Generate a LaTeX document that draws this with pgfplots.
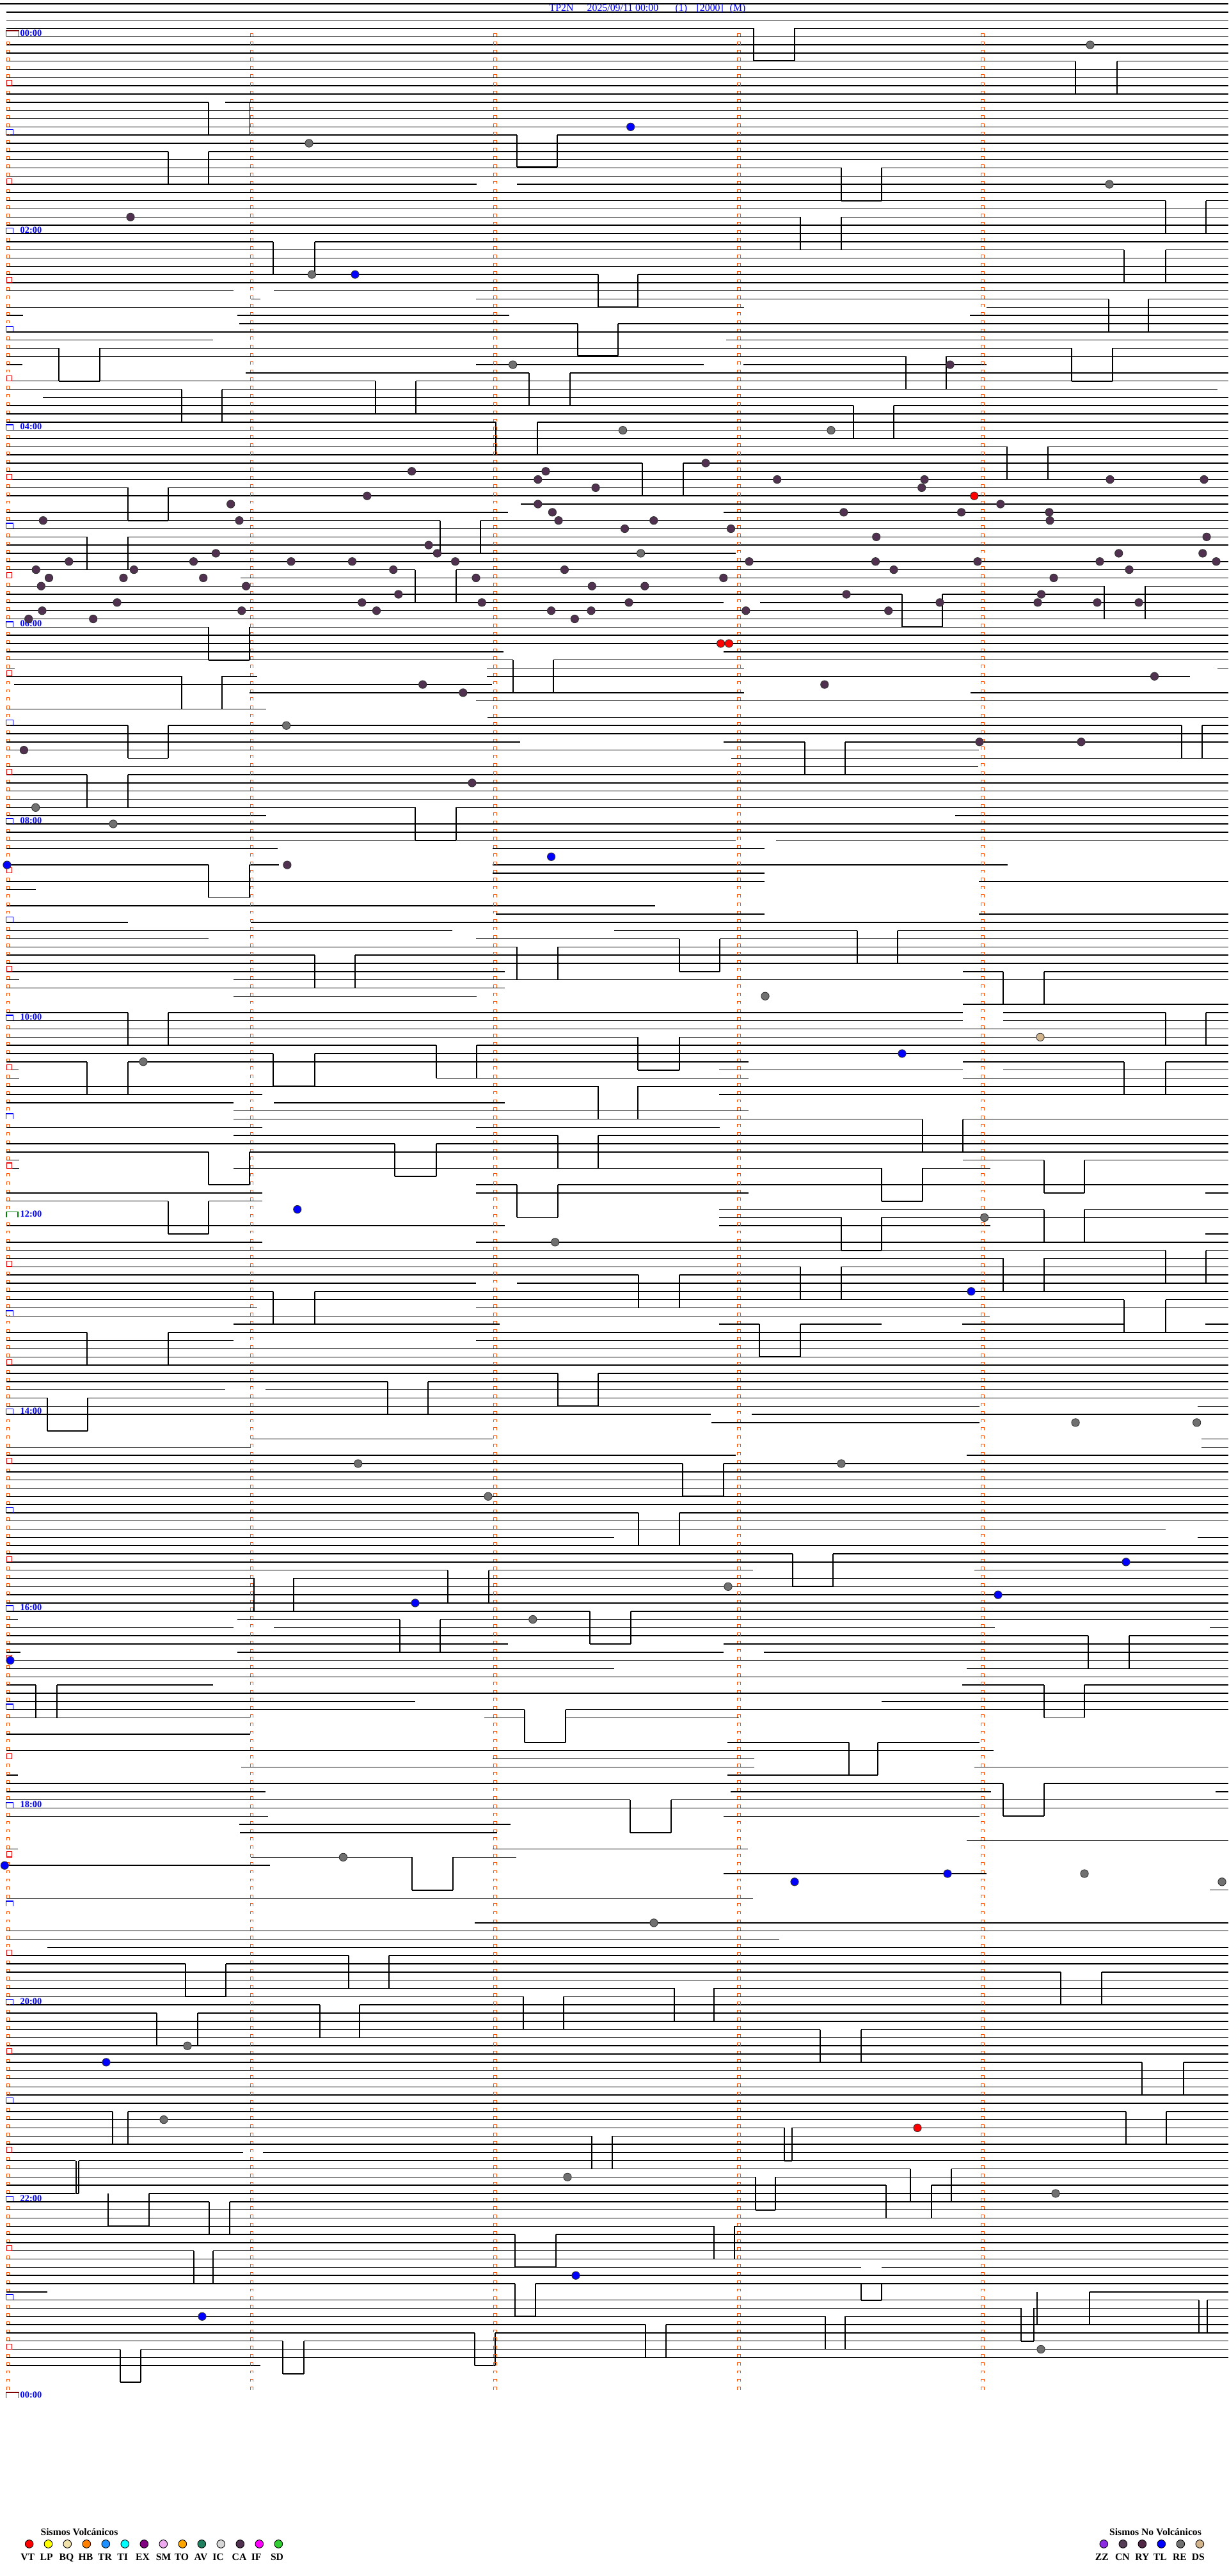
\documentclass[border=0pt]{standalone}
\usepackage{fontspec}
\setmainfont{Liberation Serif}
\usepackage{pgfplots}
\usepackage{pgfplotstable}
\pgfplotsset{compat=1.18}

\definecolor{mkor}{RGB}{255,80,0}
\definecolor{lblue}{RGB}{0,0,255}
\definecolor{hourblue}{RGB}{0,0,255}
\definecolor{halfred}{RGB}{230,0,0}
\definecolor{darkred}{RGB}{128,0,0}
\definecolor{noongreen}{RGB}{0,128,0}
\definecolor{REc}{RGB}{112,112,112}
\definecolor{CAc}{RGB}{80,50,80}
\definecolor{TLc}{RGB}{0,0,255}
\definecolor{VTc}{RGB}{255,0,0}
\definecolor{DSc}{RGB}{210,180,140}
\definecolor{LPc}{RGB}{255,255,0}
\definecolor{BQc}{RGB}{240,225,170}
\definecolor{HBc}{RGB}{255,128,0}
\definecolor{TRc}{RGB}{30,144,255}
\definecolor{TIc}{RGB}{0,255,255}
\definecolor{EXc}{RGB}{128,0,128}
\definecolor{SMc}{RGB}{238,170,238}
\definecolor{TOc}{RGB}{255,165,0}
\definecolor{AVc}{RGB}{32,128,96}
\definecolor{ICc}{RGB}{215,215,215}
\definecolor{IFc}{RGB}{255,0,255}
\definecolor{SDc}{RGB}{50,205,50}
\definecolor{ZZc}{RGB}{138,43,226}
\definecolor{CNc}{RGB}{85,60,85}
\definecolor{RYc}{RGB}{80,40,70}

% special timing marks (column 0)
\pgfdeclareplotmark{hourmk}{%
  \pgfpathrectangle{\pgfqpoint{-1.62pt}{0.22pt}}{\pgfqpoint{3.24pt}{2.2pt}}%
  \pgfsetfillcolor{white}\pgfusepathqfill
  \pgfsetstrokecolor{hourblue}\pgfsetlinewidth{0.45pt}%
  \pgfpathmoveto{\pgfqpoint{-1.62pt}{0.1pt}}%
  \pgfpathlineto{\pgfqpoint{-1.62pt}{2.42pt}}%
  \pgfpathlineto{\pgfqpoint{1.62pt}{2.42pt}}%
  \pgfpathlineto{\pgfqpoint{1.62pt}{0.1pt}}%
  \pgfusepathqstroke}
\pgfdeclareplotmark{halfmk}{%
  \pgfpathrectangle{\pgfqpoint{-1.2pt}{0.22pt}}{\pgfqpoint{2.4pt}{2.15pt}}%
  \pgfsetfillcolor{white}\pgfusepathqfill
  \pgfsetstrokecolor{halfred}\pgfsetlinewidth{0.32pt}%
  \pgfpathrectangle{\pgfqpoint{-1.2pt}{0.1pt}}{\pgfqpoint{2.4pt}{2.3pt}}%
  \pgfusepathqstroke}
\pgfdeclareplotmark{noonmk}{%
  \pgfpathrectangle{\pgfqpoint{-2.56pt}{0.22pt}}{\pgfqpoint{5.12pt}{2.3pt}}%
  \pgfsetfillcolor{white}\pgfusepathqfill
  \pgfsetstrokecolor{noongreen}\pgfsetlinewidth{0.4pt}%
  \pgfpathmoveto{\pgfqpoint{-2.56pt}{0.1pt}}%
  \pgfpathlineto{\pgfqpoint{-2.56pt}{2.56pt}}%
  \pgfpathlineto{\pgfqpoint{2.56pt}{2.56pt}}%
  \pgfpathlineto{\pgfqpoint{2.56pt}{0.1pt}}%
  \pgfusepathqstroke}
\pgfdeclareplotmark{daymk}{%
  \pgfpathrectangle{\pgfqpoint{-2.85pt}{0.22pt}}{\pgfqpoint{5.7pt}{2.6pt}}%
  \pgfsetfillcolor{white}\pgfusepathqfill
  \pgfsetstrokecolor{darkred}\pgfsetlinewidth{0.4pt}%
  \pgfpathmoveto{\pgfqpoint{-2.85pt}{0.1pt}}%
  \pgfpathlineto{\pgfqpoint{-2.85pt}{2.75pt}}%
  \pgfpathlineto{\pgfqpoint{2.85pt}{2.75pt}}%
  \pgfpathlineto{\pgfqpoint{2.85pt}{0.1pt}}%
  \pgfusepathqstroke
  \pgfsetlinewidth{0.6pt}%
  \pgfpathmoveto{\pgfqpoint{-2.85pt}{2.7pt}}%
  \pgfpathlineto{\pgfqpoint{2.85pt}{2.7pt}}%
  \pgfusepathqstroke}

% trace segments: x from x1 to x2 (pixels of the 5-minute line), on row k (5-minute rows, 0 = 00:00)
\pgfplotstableread{
x1 x2 k
0 1920 -4
10 1920 -3
10 1920 -2
10 1178 -1
1242 1920 -1
10 1920 0
10 1920 1
10 1920 2
10 1681 3
1746 1920 3
10 1920 4
10 1920 5
10 1920 6
10 1920 7
10 326 8
352 1920 8
10 1920 9
10 1920 10
10 1920 11
10 808 12
871 1920 12
10 1920 13
10 263 14
326 1920 14
10 1920 15
10 1315 16
1378 1920 16
10 1920 17
10 745 18
808 1920 18
10 1920 19
10 1822 20
1885 1920 20
10 1920 21
10 1251 22
1315 1920 22
10 1920 23
10 1920 24
10 427 25
492 1920 25
10 1757 26
1822 1920 26
10 1920 27
10 1920 28
10 935 29
997 1920 29
10 1920 30
10 365 31
428 1920 31
392 407 32
744 1733 32
1795 1920 32
10 1163 33
1542 1920 33
10 36 34
371 796 34
1516 1920 34
374 903 35
966 1920 35
10 1920 36
10 333 37
1135 1920 37
10 92 38
156 1675 38
1739 1920 38
10 1416 39
1479 1920 39
10 35 40
744 1100 40
1162 1542 40
384 827 41
891 1920 41
10 587 42
650 1920 42
10 284 43
347 1903 43
67 1920 44
10 1334 45
1397 1920 45
10 1920 46
10 775 47
840 1920 47
10 1920 48
10 1920 49
10 1574 50
1638 1920 50
10 1920 51
10 1004 52
1068 1920 52
10 1920 53
10 1920 54
10 200 55
263 1920 55
10 1920 56
814 1920 57
10 794 58
1131 1920 58
10 688 59
751 1920 59
10 1920 60
10 136 61
200 1920 61
10 1920 62
10 1150 63
10 1920 64
10 649 65
713 1920 65
376 1920 66
10 1726 67
1790 1920 67
10 1410 68
1473 1920 68
10 1131 69
1188 1920 69
10 1920 70
10 1920 71
10 326 72
390 1920 72
10 1920 73
10 1920 74
10 787 75
1131 1920 75
10 802 76
865 1920 76
10 23 77
761 1163 77
1903 1920 77
10 284 78
347 402 78
761 1860 78
22 769 79
390 1163 80
1517 1920 80
744 1920 81
10 416 82
762 1920 83
10 200 84
263 1847 84
1879 1920 84
10 1920 85
10 813 86
1131 1258 86
1321 1920 86
10 1530 87
1143 1920 88
10 1529 89
10 136 90
200 1920 90
10 1920 91
10 1920 92
10 1920 93
10 649 94
713 1920 94
10 416 95
1493 1920 95
10 1920 96
10 1920 97
10 1150 98
1213 1920 98
10 434 99
770 1195 99
10 326 101
390 436 101
770 1575 101
770 1195 102
10 1195 103
1530 1920 103
10 56 104
10 1024 106
775 1195 107
1530 1920 107
10 200 108
392 1920 108
10 707 109
960 1340 109
1403 1920 109
10 326 110
744 1062 110
1125 1920 110
10 808 111
872 1920 111
10 492 112
555 1920 112
10 1920 113
10 789 114
1505 1568 114
1632 1920 114
10 30 115
365 1920 115
10 789 116
365 745 117
1505 1920 118
10 200 119
263 1505 119
1568 1822 119
1885 1920 119
10 1505 120
1568 1920 120
10 1920 121
10 997 122
1062 1920 122
10 682 123
745 1920 123
10 427 124
492 1920 124
10 136 125
200 1170 125
1505 1757 125
1822 1920 125
10 29 126
1124 1505 126
1568 1920 126
10 30 127
744 1170 127
1505 1920 127
10 935 128
997 1920 128
10 410 129
1124 1920 129
10 365 130
428 789 130
365 1170 131
365 1442 132
1505 1920 132
10 410 133
744 1125 133
365 872 134
935 1920 134
10 617 135
682 1920 135
10 326 136
390 1920 136
10 30 137
1505 1632 137
1695 1920 137
10 30 138
365 1378 138
1442 1548 138
744 808 140
872 1920 140
10 410 141
744 1170 141
1884 1920 141
10 263 142
326 410 142
1124 1632 143
1695 1920 143
1124 1315 144
1378 1920 144
10 789 145
1124 1548 145
1884 1920 146
10 410 147
744 1920 147
10 1822 148
1885 1920 148
10 1568 149
1632 1920 149
10 1251 150
1315 1920 150
10 998 151
1062 1920 151
10 744 152
808 1920 152
10 427 153
492 1920 153
10 1757 154
1822 1920 154
10 402 155
744 1920 155
10 1547 156
365 781 157
1124 1187 157
1251 1378 157
1504 1757 157
1884 1920 157
10 136 158
263 1920 158
10 365 159
744 1920 159
10 1920 160
10 1920 161
10 1920 162
10 872 163
935 1920 163
10 606 164
669 1920 164
10 352 165
415 1920 165
10 74 166
137 1920 166
10 1531 167
1872 1920 167
10 1111 168
1175 1920 168
1112 1531 169
392 770 171
1878 1920 171
10 392 172
1878 1920 172
10 1150 173
1511 1920 173
10 1067 174
1131 1920 174
10 1920 175
10 1920 176
10 1920 177
10 1920 178
10 1920 179
10 998 180
1062 1920 180
10 1920 181
10 1822 182
10 960 183
1872 1920 183
10 1920 184
10 1239 185
1302 1920 185
10 1920 186
10 700 187
764 1177 187
1523 1920 187
10 397 188
459 1920 188
10 1920 189
10 1920 190
10 1920 191
10 922 192
986 1920 192
10 28 193
371 625 193
688 1920 193
10 365 194
428 1555 194
1891 1920 194
10 1701 195
1765 1920 195
10 794 196
1131 1920 196
10 32 197
371 1131 197
1194 1920 197
10 1920 198
10 960 199
1511 1920 199
10 1920 200
10 56 201
89 333 201
1504 1632 201
1695 1920 201
10 1920 202
10 649 203
1378 1920 203
10 820 204
884 1920 204
10 391 205
757 820 205
884 1155 205
10 391 207
1137 1327 208
1372 1531 208
10 1553 209
770 1179 210
377 1179 211
1523 1920 211
10 28 212
1137 1327 212
10 1568 213
1632 1920 213
10 415 214
1142 1549 214
1900 1920 214
10 985 215
1049 1920 215
10 1920 216
10 419 217
1131 1531 217
374 798 218
375 777 219
1511 1920 220
10 28 221
770 1169 221
392 644 222
708 807 222
10 422 223
1131 1542 224
1891 1920 226
10 1177 227
742 1920 230
10 1920 231
10 1218 232
74 1920 233
10 545 234
608 1920 234
10 290 235
353 1920 235
10 1658 236
1722 1920 236
10 1920 237
10 1054 238
1116 1920 238
10 818 239
881 1920 239
10 500 240
562 1920 240
10 245 241
309 1920 241
10 1920 242
10 1282 243
1346 1920 243
10 1920 244
10 1920 245
10 1920 246
10 1785 247
1850 1920 247
10 1920 248
10 1920 249
10 1920 250
10 1920 251
10 1920 252
10 176 253
200 1760 253
1823 1920 253
10 1920 254
10 1226 255
1238 1920 255
10 925 256
957 1920 256
10 1920 257
10 380 258
411 1920 258
10 118 259
123 1920 259
10 1423 260
1487 1920 260
10 1181 261
1212 1920 261
10 1385 262
1456 1920 262
10 118 263
233 1920 263
10 327 264
359 1920 264
10 1920 265
10 1920 266
10 1116 267
1148 1920 267
10 805 268
869 1920 268
10 1920 269
10 303 270
333 1920 270
10 1920 271
10 1346 272
1378 1920 272
10 1920 273
10 805 274
837 1920 274
10 74 275
1703 1920 275
10 1874 276
1887 1920 276
10 1596 277
1616 1920 277
10 1290 278
1321 1920 278
10 1009 279
1041 1920 279
10 742 280
774 1920 280
10 442 281
475 1920 281
10 188 282
220 1920 282
10 1920 283
10 407 284
}\segs

% square pulses: from x=a to x=b, dropping from row k to row d
\pgfplotstableread{
a b k d
1178 1242 -1 2.93
1681 1746 3 7
326 389.5 8 12
808 871 12 15.9
263 326 14 18
1315 1378 16 20
1822 1885 20 24
1251 1315 22 26
427 492 25 29
1757 1822 26 30
935 997 29 33
1733 1795 32 36
903 966 35 38.9
92 156 38 42
1675 1739 38 42
1416 1479 39 43
827 891 41 45
587 650 42 46
284 347 43 47
1334 1397 45 49
775 840 47 51
1574 1638 50 54
1004 1068 52 56
200 263 55 59
688 751 59 63
136 200 61 65
649 713 65 69
1726 1790 67 71
1410 1473 68 72
326 390 72 76
802 865 76 80
284 347 78 82
200 263 84 88
1847 1879 84 88
1258 1321 86 90
136 200 90 94
649 713 94 98
326 390 101 105
1340 1403 109 113
1062 1125 110 114
808 872 111 115
492 555 112 116
1568 1632 114 118
200 263 119 123
1822 1885 119 123
997 1062 122 126
682 745 123 127
427 492 124 128
136 200 125 129
1757 1822 125 129
935 997 128 132
1442 1505 132 136
872 935 134 138
617 682 135 139
326 390 136 140
1632 1695 137 141
1378 1442 138 142
808 872 140 144
263 326 142 146
1632 1695 143 147
1315 1378 144 148
1822 1885 148 152
1568 1632 149 153
1251 1315 150 154
998 1062 151 155
427 492 153 157
1757 1822 154 158
1187 1251 157 161
136 263 158 162
872 935 163 167
606 669 164 168
74 137 166 170
1067 1131 174 178
998 1062 180 184
1239 1302 185 189
700 764 187 191
397 459 188 192
922 986 192 196
625 688 193 197
1701 1765 195 199
56 89 201 205
1632 1695 201 205
820 884 204 208
1327 1372 208 212
1568 1632 213 217
985 1049 215 219
644 708 222 226
545 608 234 238
290 353 235 239
1658 1722 236 240
1054 1116 238 242
818 881 239 243
500 562 240 244
245 309 241 245
1282 1346 243 247
1785 1850 247 251
176 200 253 257
1760 1823 253 257
1226 1238 255 259
925 957 256 260
119 123 259 263
1423 1487 260 264
1181 1212 261 265
1385 1456 262 266
169 233 263 267
327 359 264 268
1116 1148 267 271
805 869 268 272
303 333 270 274
805 837 274 278
1346 1378 274 276
1621 1703 275 279
1874 1887 276 280
1596 1616 277 281
1290 1321 278 282
1009 1041 279 283
742 774 280 284
442 475 281 285
188 220 282 286
}\pulses

\pgfplotstableread{
x k
1704 1
483 13
1734 18
487.5 29
801.6 40
973.5 48
1299 48
1001.6 63
447.6 84
55.7 94
177 96
1196 117
224 125
1538.7 144
867.7 147
1681 169
1870.6 169
559.7 174
1315 174
763 178
1138 189
832.8 193
536.4 222
1695 224
1910 225
1022 230
293 245
256 254
887 261
1650 263
1627 282
}\dotsRE

\pgfplotstableread{
x k
985.7 11
555 29
861.6 100
11 101
1410 124
464.8 143
1518 153
1760 186
1560 190
649 191
16 198
7.3 223
1481 224
1242 225
166 247
900 273
316 278
}\dotsTL

\pgfplotstableread{
x k
1522.8 56
1126.6 74
1139.4 74
1434 255
}\dotsVT

\pgfplotstableread{
x k
204 22
1485 40
1103 52
643.6 53
853 53
840.8 54
1214.7 54
1445 54
1735 54
1882 54
931 55
1440.7 55
573.8 56
360.7 57
840.8 57
1563.8 57
863.4 58
1318.8 58
1502.6 58
1640 58
67.4 59
374 59
873 59
1021.8 59
1641 59
976.5 60
1142.5 60
1369.7 61
1886 61
670 62
337.4 63
683.4 63
1748.7 63
1879.8 63
107.8 64
302.5 64
455 64
550.5 64
711.6 64
1171 64
1368.5 64
1528 64
1719 64
1901 64
56.3 65
209.4 65
614.8 65
882.4 65
1397 65
1765 65
76.5 66
193 66
317.8 66
744 66
1130.8 66
1647 66
64.3 67
384.6 67
925.3 67
1007.8 67
622.8 68
1323 68
1627.5 68
183 69
565.8 69
753.2 69
983 69
1469 69
1622 69
1715 69
1780 69
66 70
377.8 70
588.5 70
861.6 70
924 70
1165.8 70
1388.7 70
44.7 71
145.7 71
898.3 71
1804.5 78
660.7 79
1288.8 79
723.8 80
1531 86
1690 86
37.4 87
737.9 91
448.9 101
}\dotsCA

\newcommand{\hlab}[2]{\node[anchor=base west, inner sep=0pt, text=lblue, font=\fontsize{4.1pt}{4.5pt}\selectfont\bfseries] at (axis cs:31,#1-0.06) {#2};}
\newcommand{\lgl}[2]{\node[anchor=base, inner sep=0pt, font=\fontsize{4.45pt}{5pt}\selectfont\bfseries] at (axis cs:#1,307.72) {#2};}

\begin{document}
\begin{tikzpicture}
\begin{axis}[
  x=0.1mm, y=1.282mm,
  xmin=0, xmax=1920, ymin=-4.4696, ymax=309.65,
  y dir=reverse, hide axis, clip=false,
  every axis plot/.append style={line cap=butt},
]
% trace lines
\addplot[black, line width=0.42pt, quiver={u=\thisrow{x2}-\thisrow{x1}, v=0}] table[x=x1, y=k] {\segs};
% pulses
\addplot[black, line width=0.42pt, quiver={u=0, v=\thisrow{d}-\thisrow{k}}] table[x=a, y=k] {\pulses};
\addplot[black, line width=0.42pt, quiver={u=0, v=\thisrow{d}-\thisrow{k}}] table[x=b, y=k] {\pulses};
\addplot[black, line width=0.5pt, quiver={u=\thisrow{b}-\thisrow{a}, v=0}] table[x=a, y=d] {\pulses};

% minute timing marks (columns)
\addplot[mkor, line width=0.1mm, dash pattern=on 0.47mm off 0.812mm] coordinates {(10.2,0.5866) (10.2,287)};
\addplot[mkor, line width=0.1mm, dash pattern=on 0.47mm off 0.812mm] coordinates {(14.8,0.5866) (14.8,287)};
\addplot[mkor, line width=0.56mm, dash pattern=on 0.1mm off 1.182mm] coordinates {(12.5,0.5866) (12.5,287)};
\addplot[mkor, line width=0.1mm, dash pattern=on 0.47mm off 0.812mm] coordinates {(391.2,-0.4134) (391.2,287)};
\addplot[mkor, line width=0.1mm, dash pattern=on 0.47mm off 0.812mm] coordinates {(395.8,-0.4134) (395.8,287)};
\addplot[mkor, line width=0.56mm, dash pattern=on 0.1mm off 1.182mm] coordinates {(393.5,-0.4134) (393.5,287)};
\addplot[mkor, line width=0.1mm, dash pattern=on 0.47mm off 0.812mm] coordinates {(771.7,-0.4134) (771.7,287)};
\addplot[mkor, line width=0.1mm, dash pattern=on 0.47mm off 0.812mm] coordinates {(776.3,-0.4134) (776.3,287)};
\addplot[mkor, line width=0.56mm, dash pattern=on 0.1mm off 1.182mm] coordinates {(774,-0.4134) (774,287)};
\addplot[mkor, line width=0.1mm, dash pattern=on 0.47mm off 0.812mm] coordinates {(1152.7,-0.4134) (1152.7,287)};
\addplot[mkor, line width=0.1mm, dash pattern=on 0.47mm off 0.812mm] coordinates {(1157.3,-0.4134) (1157.3,287)};
\addplot[mkor, line width=0.56mm, dash pattern=on 0.1mm off 1.182mm] coordinates {(1155,-0.4134) (1155,287)};
\addplot[mkor, line width=0.1mm, dash pattern=on 0.47mm off 0.812mm] coordinates {(1533.7,-0.4134) (1533.7,287)};
\addplot[mkor, line width=0.1mm, dash pattern=on 0.47mm off 0.812mm] coordinates {(1538.3,-0.4134) (1538.3,287)};
\addplot[mkor, line width=0.56mm, dash pattern=on 0.1mm off 1.182mm] coordinates {(1536,-0.4134) (1536,287)};

% hour / half-hour marks
\addplot[only marks, mark=hourmk] coordinates {(15,12) (15,24) (15,36) (15,48) (15,60) (15,72) (15,84) (15,96) (15,108) (15,120) (15,132) (15,156) (15,168) (15,180) (15,192) (15,204) (15,216) (15,228) (15,240) (15,252) (15,264) (15,276)};
\addplot[only marks, mark=halfmk] coordinates {(14.5,6) (14.5,18) (14.5,30) (14.5,42) (14.5,54) (14.5,66) (14.5,78) (14.5,90) (14.5,102) (14.5,114) (14.5,126) (14.5,138) (14.5,150) (14.5,162) (14.5,174) (14.5,186) (14.5,198) (14.5,210) (14.5,222) (14.5,234) (14.5,246) (14.5,258) (14.5,270) (14.5,282)};
\addplot[only marks, mark=noonmk] coordinates {(19,144)};
\addplot[only marks, mark=daymk] coordinates {(19.3,0) (19.3,288)};

% events
\addplot[only marks, mark=*, mark size=1.75pt, mark options={fill=REc, draw=black!80, line width=0.25pt}] table[x=x, y=k] {\dotsRE};
\addplot[only marks, mark=*, mark size=1.75pt, mark options={fill=CAc, draw=black!80, line width=0.25pt}] table[x=x, y=k] {\dotsCA};
\addplot[only marks, mark=*, mark size=1.75pt, mark options={fill=TLc, draw=black!80, line width=0.25pt}] table[x=x, y=k] {\dotsTL};
\addplot[only marks, mark=*, mark size=1.75pt, mark options={fill=VTc, draw=black!80, line width=0.25pt}] table[x=x, y=k] {\dotsVT};
\addplot[only marks, mark=*, mark size=1.75pt, mark options={fill=DSc, draw=black!80, line width=0.25pt}] coordinates {(1626,122)};

% hour labels
\hlab{0}{00:00}\hlab{24}{02:00}\hlab{48}{04:00}\hlab{72}{06:00}\hlab{96}{08:00}\hlab{120}{10:00}
\hlab{144}{12:00}\hlab{168}{14:00}\hlab{192}{16:00}\hlab{216}{18:00}\hlab{240}{20:00}\hlab{264}{22:00}\hlab{288}{00:00}

% title
\begin{scope}[every node/.style={anchor=base west, inner sep=0pt, text=lblue, font=\fontsize{4.5pt}{5pt}\selectfont}]
\node at (axis cs:858,-3.12) {TP2N};
\node at (axis cs:917,-3.12) {2025/09/11 00:00};
\node at (axis cs:1055,-3.12) {(1)};
\node at (axis cs:1088,-3.12) {[2000]};
\node at (axis cs:1140,-3.12) {(M)};
\end{scope}

% legend
\node[anchor=base, inner sep=0pt, font=\fontsize{4.45pt}{5pt}\selectfont\bfseries] at (axis cs:124,304.66) {Sismos Volcánicos};
\node[anchor=base, inner sep=0pt, font=\fontsize{4.45pt}{5pt}\selectfont\bfseries] at (axis cs:1806,304.66) {Sismos No Volcánicos};
\addplot[only marks, mark=*, mark size=1.8pt, mark options={fill=VTc, draw=black, line width=0.25pt}] coordinates {(45.7,305.74)};
\addplot[only marks, mark=*, mark size=1.8pt, mark options={fill=LPc, draw=black, line width=0.25pt}] coordinates {(75.5,305.74)};
\addplot[only marks, mark=*, mark size=1.8pt, mark options={fill=BQc, draw=black, line width=0.25pt}] coordinates {(105.3,305.74)};
\addplot[only marks, mark=*, mark size=1.8pt, mark options={fill=HBc, draw=black, line width=0.25pt}] coordinates {(135.3,305.74)};
\addplot[only marks, mark=*, mark size=1.8pt, mark options={fill=TRc, draw=black, line width=0.25pt}] coordinates {(165.3,305.74)};
\addplot[only marks, mark=*, mark size=1.8pt, mark options={fill=TIc, draw=black, line width=0.25pt}] coordinates {(195.3,305.74)};
\addplot[only marks, mark=*, mark size=1.8pt, mark options={fill=EXc, draw=black, line width=0.25pt}] coordinates {(225.3,305.74)};
\addplot[only marks, mark=*, mark size=1.8pt, mark options={fill=SMc, draw=black, line width=0.25pt}] coordinates {(255.3,305.74)};
\addplot[only marks, mark=*, mark size=1.8pt, mark options={fill=TOc, draw=black, line width=0.25pt}] coordinates {(285.3,305.74)};
\addplot[only marks, mark=*, mark size=1.8pt, mark options={fill=AVc, draw=black, line width=0.25pt}] coordinates {(315.3,305.74)};
\addplot[only marks, mark=*, mark size=1.8pt, mark options={fill=ICc, draw=black, line width=0.25pt}] coordinates {(345.3,305.74)};
\addplot[only marks, mark=*, mark size=1.8pt, mark options={fill=CAc, draw=black, line width=0.25pt}] coordinates {(375.3,305.74)};
\addplot[only marks, mark=*, mark size=1.8pt, mark options={fill=IFc, draw=black, line width=0.25pt}] coordinates {(405.3,305.74)};
\addplot[only marks, mark=*, mark size=1.8pt, mark options={fill=SDc, draw=black, line width=0.25pt}] coordinates {(435.3,305.74)};
\addplot[only marks, mark=*, mark size=1.8pt, mark options={fill=ZZc, draw=black, line width=0.25pt}] coordinates {(1725.3,305.74)};
\addplot[only marks, mark=*, mark size=1.8pt, mark options={fill=CNc, draw=black, line width=0.25pt}] coordinates {(1755.3,305.74)};
\addplot[only marks, mark=*, mark size=1.8pt, mark options={fill=RYc, draw=black, line width=0.25pt}] coordinates {(1785.3,305.74)};
\addplot[only marks, mark=*, mark size=1.8pt, mark options={fill=TLc, draw=black, line width=0.25pt}] coordinates {(1815.3,305.74)};
\addplot[only marks, mark=*, mark size=1.8pt, mark options={fill=REc, draw=black, line width=0.25pt}] coordinates {(1845.3,305.74)};
\addplot[only marks, mark=*, mark size=1.8pt, mark options={fill=DSc, draw=black, line width=0.25pt}] coordinates {(1875.3,305.74)};
\lgl{43.3}{VT}\lgl{72.7}{LP}\lgl{104}{BQ}\lgl{134}{HB}\lgl{164}{TR}\lgl{191.7}{TI}\lgl{223}{EX}
\lgl{255.7}{SM}\lgl{284}{TO}\lgl{314}{AV}\lgl{341}{IC}\lgl{374}{CA}\lgl{400.7}{IF}\lgl{433}{SD}
\lgl{1722.3}{ZZ}\lgl{1754.3}{CN}\lgl{1785.3}{RY}\lgl{1813.3}{TL}\lgl{1844}{RE}\lgl{1872.7}{DS}
\end{axis}
\pgfresetboundingbox
\path (current axis.south west) rectangle (current axis.north east);
\end{tikzpicture}
\end{document}
